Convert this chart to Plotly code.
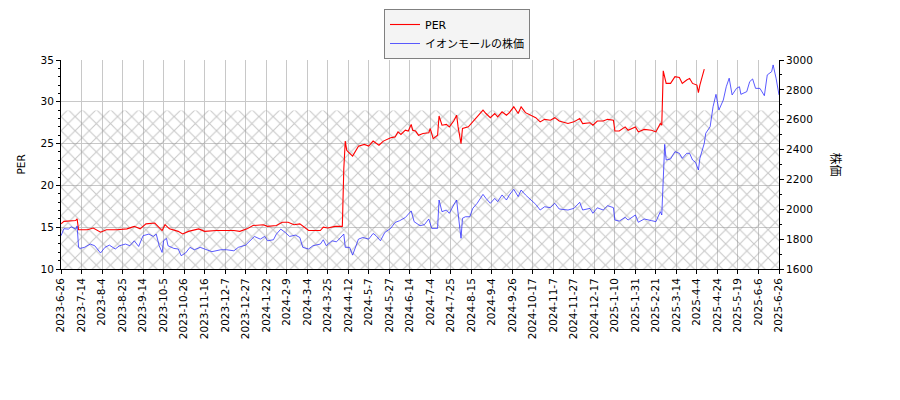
import plotly.graph_objects as go

# x axis labels, one every 14 trading days
tick_labels = [
    "2023-6-26", "2023-7-14", "2023-8-4", "2023-8-25", "2023-9-14", "2023-10-5",
    "2023-10-26", "2023-11-16", "2023-12-7", "2023-12-27", "2024-1-22", "2024-2-9",
    "2024-3-4", "2024-3-25", "2024-4-12", "2024-5-7", "2024-5-27", "2024-6-14",
    "2024-7-4", "2024-7-25", "2024-8-15", "2024-9-4", "2024-9-26", "2024-10-17",
    "2024-11-7", "2024-11-27", "2024-12-17", "2025-1-10", "2025-1-31", "2025-2-21",
    "2025-3-14", "2025-4-4", "2025-4-24", "2025-5-19", "2025-6-6", "2025-6-26",
]
tick_step = 14

# PER (trading-day index, value)
per_day = [
    0, 2, 10, 11, 12, 18, 22, 27, 31, 38, 45, 50, 54, 58, 64, 69, 71, 74, 80, 83,
    87, 94, 98, 106, 118, 122, 127, 131, 138, 141, 147, 151, 155, 159, 163, 167,
    169, 177, 179, 182, 187, 192, 193, 194, 195, 196, 199, 203, 207, 210, 213,
    217, 220, 225, 228, 230, 232, 235, 237, 239, 240, 242, 244, 247, 251, 252,
    254, 257, 258, 260, 263, 265, 268, 270, 271, 273, 274, 278, 281, 284, 288,
    290, 293, 296, 298, 301, 304, 306, 309, 312, 314, 317, 321, 324, 327, 330,
    334, 337, 340, 346, 350, 354, 356, 361, 363, 366, 370, 373, 377, 378, 381,
    385, 387, 392, 394, 398, 403, 406, 409, 410, 411, 413, 416, 419, 422, 424,
    427, 429, 431, 434, 435, 436, 439,
]
per_val = [
    15.4, 15.7, 15.8, 16.0, 14.7, 14.7, 14.9, 14.4, 14.7, 14.7, 14.8, 15.1, 14.8,
    15.4, 15.5, 14.6, 15.3, 14.8, 14.5, 14.2, 14.5, 14.8, 14.5, 14.6, 14.6, 14.5,
    14.8, 15.2, 15.3, 15.1, 15.2, 15.6, 15.6, 15.3, 15.4, 14.8, 14.6, 14.6, 15.0,
    14.9, 15.1, 15.1, 22.0, 25.3, 24.2, 24.0, 23.5, 24.7, 24.9, 24.7, 25.3, 24.8,
    25.3, 25.7, 25.8, 26.4, 26.1, 26.6, 26.5, 27.3, 26.6, 26.5, 26.0, 26.2, 26.3,
    26.8, 25.6, 26.0, 28.3, 27.2, 27.3, 27.0, 27.7, 28.4, 27.0, 25.0, 26.8, 27.0,
    27.6, 28.2, 29.0, 28.6, 28.1, 28.6, 28.2, 28.8, 28.4, 28.7, 29.4, 28.6, 29.4,
    28.7, 28.3, 28.1, 27.6, 27.9, 27.8, 28.1, 27.7, 27.4, 27.6, 28.0, 27.4, 27.5,
    27.2, 27.7, 27.7, 27.9, 27.8, 26.5, 26.5, 27.0, 26.6, 27.0, 26.4, 26.7, 26.6,
    26.4, 27.4, 27.2, 33.7, 32.2, 32.2, 33.0, 32.9, 32.2, 32.6, 32.8, 32.2, 32.0,
    31.1, 32.0, 33.9,
]

# share price (trading-day index, yen)
price_day = [
    0, 2, 5, 7, 10, 11, 12, 13, 16, 20, 23, 27, 30, 33, 37, 40, 44, 47, 50, 53,
    56, 60, 63, 65, 67, 69, 70, 72, 73, 77, 80, 82, 85, 88, 91, 95, 98, 103, 109,
    113, 118, 121, 126, 129, 132, 136, 139, 141, 145, 147, 150, 153, 156, 160,
    163, 165, 169, 172, 177, 179, 181, 185, 188, 193, 194, 197, 199, 203, 206,
    210, 213, 215, 218, 221, 225, 228, 231, 235, 239, 241, 245, 248, 251, 253,
    257, 258, 260, 263, 265, 268, 270, 271, 273, 274, 276, 279, 281, 284, 288,
    290, 293, 296, 298, 301, 304, 306, 309, 312, 314, 317, 321, 324, 327, 330,
    334, 337, 340, 346, 350, 354, 356, 361, 363, 366, 370, 373, 377, 378, 381,
    385, 387, 392, 394, 398, 403, 406, 409, 410, 412, 413, 416, 419, 422, 424,
    427, 429, 431, 433, 435, 436, 439, 440, 443, 444, 445, 447, 449, 452, 454,
    456, 458, 461, 463, 464, 468, 470, 472, 474, 477, 480, 482, 485, 486, 488,
    490,
]
price_val = [
    1823, 1870, 1867, 1883, 1867, 1889, 1745, 1738, 1745, 1767, 1756, 1707, 1745,
    1760, 1734, 1756, 1767, 1756, 1789, 1751, 1823, 1834, 1818, 1834, 1756, 1711,
    1789, 1805, 1756, 1738, 1734, 1689, 1707, 1745, 1729, 1745, 1734, 1716, 1729,
    1729, 1722, 1745, 1760, 1789, 1818, 1800, 1818, 1789, 1796, 1834, 1867, 1845,
    1818, 1827, 1811, 1745, 1734, 1756, 1767, 1796, 1756, 1789, 1782, 1834, 1745,
    1745, 1693, 1800, 1811, 1800, 1838, 1823, 1789, 1845, 1872, 1912, 1923, 1945,
    1989, 1917, 1890, 1897, 1935, 1872, 1872, 2062, 1984, 1995, 1973, 2029, 2062,
    1973, 1806, 1940, 1950, 1950, 2006, 2040, 2100, 2073, 2040, 2073, 2051, 2096,
    2062, 2096, 2134, 2085, 2129, 2096, 2062, 2033, 1995, 2017, 2011, 2040, 2002,
    1995, 2006, 2047, 1995, 2006, 1973, 2010, 1995, 2024, 2011, 1928, 1921, 1946,
    1928, 1962, 1913, 1935, 1924, 1917, 1984, 1962, 2435, 2330, 2337, 2386, 2375,
    2341, 2375, 2375, 2330, 2315, 2263, 2341, 2442, 2509, 2553, 2620, 2687, 2770,
    2665, 2732, 2821, 2878, 2766, 2810, 2821, 2770, 2788, 2855, 2873, 2810, 2810,
    2761, 2900, 2922, 2967, 2878, 2766,
]

# upper edge of the hatched PER band
hatch_top = 28.95

tick_day = [i * tick_step for i in range(len(tick_labels))]
x0, x1 = tick_day[0], tick_day[-1]

font_main = "DejaVu Sans, Noto Sans CJK JP"
grid_col = "#c8c8c8"

fig = go.Figure()

fig.add_trace(go.Scatter(
    x=[x0, x1, x1, x0, x0], y=[10, 10, hatch_top, hatch_top, 10],
    mode="none", fill="toself", fillcolor="rgba(0,0,0,0)",
    fillpattern=dict(shape="x", fgcolor="#909090", bgcolor="rgba(0,0,0,0)",
                     size=10, solidity=0.2),
    showlegend=False, hoverinfo="skip",
))

fig.add_trace(go.Scatter(
    x=per_day, y=per_val, mode="lines", name="PER",
    line=dict(color="red", width=1.1),
))

fig.add_trace(go.Scatter(
    x=price_day, y=price_val, mode="lines", name="イオンモールの株価",
    line=dict(color="rgba(40,40,255,0.85)", width=0.9), yaxis="y2",
))

fig.update_layout(
    width=900, height=400,
    margin=dict(l=61, r=121, t=60, b=131, autoexpand=False),
    paper_bgcolor="white", plot_bgcolor="white",
    font=dict(family=font_main, size=10.5, color="black"),
    xaxis=dict(
        range=[x0, x1], tickmode="array", tickvals=tick_day, ticktext=tick_labels,
        tickangle=-90, ticks="outside", ticklen=4, tickcolor="black",
        showgrid=True, gridcolor=grid_col, gridwidth=1, automargin=False,
        showline=True, linecolor="black", linewidth=1, zeroline=False,
        tickfont=dict(size=10.5),
    ),
    yaxis=dict(
        range=[10, 35], dtick=5, ticks="outside", ticklen=4, tickcolor="black",
        showgrid=True, gridcolor=grid_col, gridwidth=1, automargin=False,
        showline=True, linecolor="black", linewidth=1, zeroline=False,
        minor=dict(dtick=1, ticks="outside", ticklen=2, tickcolor="black", showgrid=False),
    ),
    yaxis2=dict(
        range=[1600, 3000], dtick=200, overlaying="y", side="right",
        ticks="outside", ticklen=4, tickcolor="black", showgrid=False,
        showline=True, linecolor="black", linewidth=1, zeroline=False,
        automargin=False,
        minor=dict(dtick=100, ticks="outside", ticklen=2, tickcolor="black"),
    ),
    legend=dict(
        xref="container", yref="container",
        x=384 / 900, y=1 - 9 / 400, xanchor="left", yanchor="top",
        bgcolor="#f4f4f4", bordercolor="#808080", borderwidth=1,
        font=dict(family=font_main, size=11), tracegroupgap=0,
    ),
    annotations=[
        dict(text="PER", textangle=-90, xref="paper", yref="paper",
             x=0, xshift=-41, y=0.5, xanchor="center", yanchor="middle",
             showarrow=False, font=dict(family=font_main, size=10.5)),
        dict(text="株価", textangle=90, xref="paper", yref="paper",
             x=1.0, xshift=56, y=0.5, xanchor="center", yanchor="middle",
             showarrow=False, font=dict(family=font_main, size=12)),
    ],
)

# the page's default body margin would shift the chart
fig.write_html("out.html", config={"displayModeBar": False},
               post_script="document.body.style.margin = '0';")
